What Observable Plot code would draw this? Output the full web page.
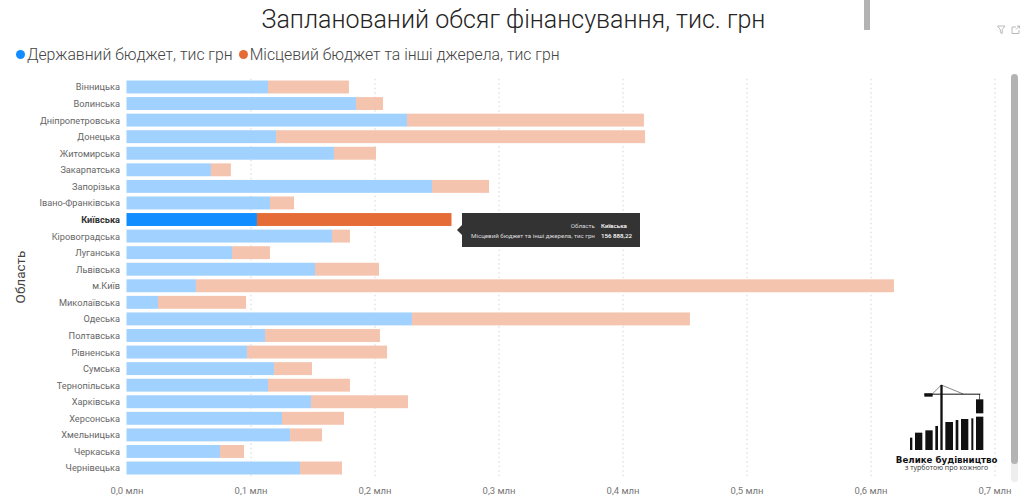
<!DOCTYPE html>
<html><head><meta charset="utf-8">
<script src="https://cdn.jsdelivr.net/npm/d3@7"></script>
<script src="https://cdn.jsdelivr.net/npm/@observablehq/plot@0.6"></script>
<style>
html,body{margin:0;padding:0;background:#fff;width:1024px;height:502px;overflow:hidden;font-family:Roboto,sans-serif}
#wrap{position:relative;width:1024px;height:502px;overflow:hidden}
#title{height:40px;line-height:39px;text-align:center;font-family:Roboto;font-weight:300;font-size:25px;color:#252423;padding-left:3px;box-sizing:border-box}
#legend{height:34px;line-height:30px;font-family:Roboto;font-weight:300;font-size:15.8px;color:#444;padding-left:16px;box-sizing:border-box;white-space:nowrap}
#legend i{display:inline-block;width:9px;height:9px;border-radius:50%;margin-right:2px;vertical-align:1px}
#legend span{margin-right:6px}
#ylab{position:absolute;left:20px;top:277px;transform:translate(-50%,-50%) rotate(-90deg);font-size:13.5px;color:#444;white-space:nowrap}
#tip{position:absolute;left:462px;top:213px;width:178px;height:34px;background:#333;color:#ddd;font-size:6.2px;line-height:9.5px;box-sizing:border-box;padding:9px 8px 0 0;display:grid;grid-template-columns:1fr auto;grid-auto-rows:9.5px;column-gap:6px;text-align:right}
#tip b{font-weight:500;color:#fff;text-align:left}
#tip:before{content:"";position:absolute;left:-5px;top:12px;border:5px solid transparent;border-left:0;border-right-color:#333}
.over{position:absolute}
svg{display:block}
</style></head><body><div id="wrap">
<div id="title">Запланований обсяг фінансування, тис. грн</div>
<div id="legend"><i style="background:#118DFF"></i><span>Державний бюджет, тис грн</span><i style="background:#E66C37"></i><span>Місцевий бюджет та інші джерела, тис грн</span></div>
<div id="chart"></div>
<div id="ylab">Область</div>
<div id="tip"><span>Область</span><b>Київська</b><span>Місцевий бюджет та інші джерела, тис грн</span><b>156 888,22</b></div>
<svg class="over" style="left:864px;top:0" width="6" height="30"><rect width="6" height="30" fill="#b3b3b3"/></svg>
<svg class="over" style="left:1011px;top:74px" width="7" height="408"><rect width="7" height="408" rx="3.5" fill="#eee"/><rect width="7" height="390" rx="3.5" fill="#b3b3b3"/></svg>
<svg class="over" style="left:996px;top:24px" width="26" height="12" fill="none" stroke="#a8a8a8" stroke-width="0.8"><path d="M1.5 2H9L6.2 5.6V9.5L4.3 8.5V5.6Z"/><path d="M16 3H20M16 3V9.5H23V6M20 5.5L23.5 2M21 2H23.5V4.5"/></svg>
<svg class="over" style="left:860px;top:370px" width="164" height="132" viewBox="0 0 492 396">
<g fill="#111"><rect x="150" y="203" width="7" height="37"/><rect x="165" y="188" width="22" height="52"/><rect x="196" y="181" width="22" height="59"/><rect x="226" y="168" width="8" height="72"/><rect x="256" y="156" width="23" height="84"/><rect x="287" y="150" width="8" height="90"/><rect x="303" y="147" width="22" height="93"/><rect x="334" y="145" width="6" height="95"/><rect x="348" y="140" width="22" height="100"/><rect x="348" y="88" width="22" height="42"/><rect x="241" y="45" width="7" height="195"/><rect x="193" y="70" width="25" height="10"/><rect x="193" y="71" width="168" height="3"/><rect x="357" y="72" width="2" height="17"/></g>
<path d="M244 45L218 71M244 45L310 72" stroke="#111" stroke-width="1.5" fill="none"/>
<text x="260" y="279" text-anchor="middle" font-family="DejaVu Sans" font-weight="700" font-size="26" fill="#111">Велике будівництво</text>
<text x="260" y="300" text-anchor="middle" font-family="Open Sans" font-size="21" fill="#333">з турботою про кожного</text>
</svg>
</div>
<script>
const regions = ["Вінницька","Волинська","Дніпропетровська","Донецька","Житомирська","Закарпатська","Запорізька","Івано-Франківська","Київська","Кіровоградська","Луганська","Львівська","м.Київ","Миколаївська","Одеська","Полтавська","Рівненська","Сумська","Тернопільська","Харківська","Херсонська","Хмельницька","Черкаська","Чернівецька"];
const stateBudget = [114.1,185.1,226.2,120.6,167.3,68.1,246.4,115.7,105.2,165.7,85.1,152.0,56.0,25.4,230.2,111.7,97.2,119.0,114.1,148.8,125.4,131.9,75.4,139.9];
const localBudget = [65.3,21.8,191.1,297.6,33.9,16.1,46.0,19.4,156.89,14.5,30.6,51.6,562.9,71.0,224.2,92.7,112.9,30.6,66.1,78.2,50.0,25.8,19.4,33.9];
const highlighted = "Київська";
const xTicks = [0,0.1,0.2,0.3,0.4,0.5,0.6,0.7];
const rows = regions.flatMap((r,i)=>[
  {region:r,kind:"state",v:stateBudget[i]/1000,order:0},
  {region:r,kind:"local",v:localBudget[i]/1000,order:1}
]);
const colorOf = d => d.region===highlighted ? (d.kind==="state"?"#118DFF":"#E66C37") : (d.kind==="state"?"#A0D1FF":"#F5C4AF");
const plot = Plot.plot({
  width:1024,height:428,
  marginTop:4.7,marginBottom:25.7,marginLeft:126.5,marginRight:29.5,
  style:{fontFamily:"Roboto",background:"transparent",overflow:"visible"},
  x:{domain:[0,0.7],label:null},
  y:{domain:regions,label:null,paddingInner:0.22,paddingOuter:0.11,round:false},
  marks:[
    Plot.ruleX(xTicks.slice(1),{stroke:"#d4d4d4",strokeWidth:1,strokeDasharray:"1.5 3"}),
    Plot.barX(rows,Plot.stackX({x:"v",y:"region",order:"order",fill:colorOf})),
    Plot.axisX({ticks:xTicks,tickSize:0,tickPadding:10,fontSize:9.5,label:null,color:"#777",tickFormat:d=>d.toFixed(1).replace(".",",")+" млн"}),
    Plot.axisY({ticks:regions.filter(r=>r!==highlighted),tickSize:0,tickPadding:7,fontSize:9.2,label:null,color:"#666"}),
    Plot.axisY({ticks:[highlighted],tickSize:0,tickPadding:7,fontSize:9.2,fontWeight:700,label:null,color:"#333"})
  ]
});
document.getElementById("chart").append(plot);
</script>
</body></html>
